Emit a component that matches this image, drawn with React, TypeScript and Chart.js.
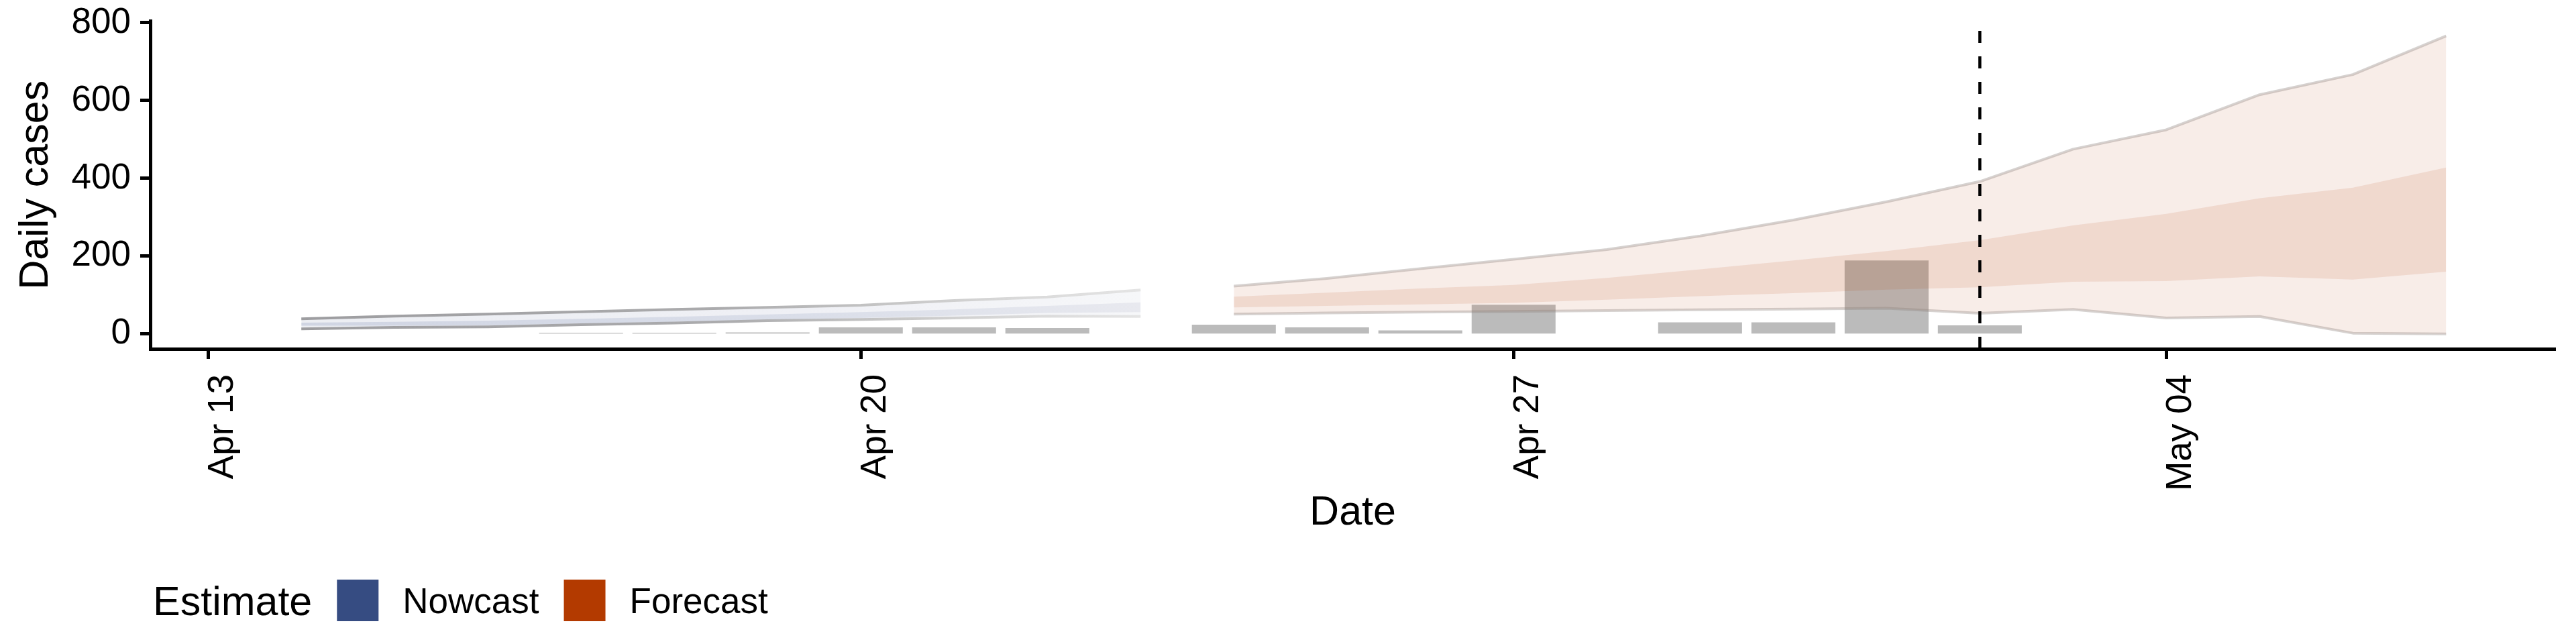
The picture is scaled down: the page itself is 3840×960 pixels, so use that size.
import React, { useEffect, useRef } from "react";
import { Chart, registerables } from "chart.js";

Chart.register(...registerables);

const FONT = "'Liberation Sans', Arial, Helvetica, sans-serif";

// ---------- data ----------
const originDate = "2020-04-13";

const nowcastDates = [
  "2020-04-14", "2020-04-15", "2020-04-16", "2020-04-17", "2020-04-18",
  "2020-04-19", "2020-04-20", "2020-04-21", "2020-04-22", "2020-04-23",
];
const nowcastLower90 = [13, 17, 18, 24, 28, 34, 37, 41, 46, 45];
const nowcastLower50 = [21, 21, 22, 27, 31, 36, 41, 47, 54, 56];
const nowcastUpper50 = [29, 31, 34, 39, 44, 50, 56, 63, 72, 81];
const nowcastUpper90 = [39, 46, 51, 57, 63, 68, 74, 86, 95, 113];

const forecastDates = [
  "2020-04-24", "2020-04-25", "2020-04-26", "2020-04-27", "2020-04-28",
  "2020-04-29", "2020-04-30", "2020-05-01", "2020-05-02", "2020-05-03",
  "2020-05-04", "2020-05-05", "2020-05-06", "2020-05-07",
];
const forecastLower90 = [51, 54, 56, 58, 60, 62, 64, 66, 53, 63, 41, 45, 2, 0];
const forecastLower50 = [68, 72, 76, 80, 88, 97, 105, 114, 120, 134, 136, 148, 140, 160];
const forecastUpper50 = [96, 106, 117, 126, 144, 166, 189, 213, 241, 279, 309, 349, 376, 428];
const forecastUpper90 = [123, 143, 168, 192, 217, 252, 293, 340, 392, 475, 525, 615, 667, 766];

const caseDates = [
  "2020-04-17", "2020-04-18", "2020-04-19", "2020-04-20", "2020-04-21", "2020-04-22",
  "2020-04-24", "2020-04-25", "2020-04-26", "2020-04-27",
  "2020-04-29", "2020-04-30", "2020-05-01", "2020-05-02",
];
const caseCounts = [3, 3, 4, 17, 17, 15, 24, 17, 9, 75, 30, 30, 189, 22];

const forecastLineDate = "2020-05-02";

const xTickDates = ["2020-04-13", "2020-04-20", "2020-04-27", "2020-05-04"];
const xTickLabels = ["Apr 13", "Apr 20", "Apr 27", "May 04"];
const yTicks = [0, 200, 400, 600, 800];

const legendTitle = "Estimate";
const legendLabels = ["Nowcast", "Forecast"];
const legendColors = ["#364C82", "#B33A00"];

// ---------- helpers ----------
const DAY = 86400000;
const day = (d: string) => Math.round((Date.parse(d) - Date.parse(originDate)) / DAY);
const pts = (dates: string[], ys: number[]) => dates.map((d, i) => ({ x: day(d), y: ys[i] }));

const X_MIN = -0.62;
const X_MAX = 25.17;
const Y_MIN = -38.3;
const Y_MAX = 804.3;

const TITLE_SIZE = 61;
const TEXT_SIZE = 53;

function hGradient(chart: any, d0: string, d1: string, stops: [number, string][]) {
  const { ctx, chartArea, scales } = chart;
  if (!chartArea || !scales.x) return stops[0][1];
  const g = ctx.createLinearGradient(
    scales.x.getPixelForValue(day(d0)), 0,
    scales.x.getPixelForValue(day(d1)), 0
  );
  stops.forEach(([o, c]) => g.addColorStop(o, c));
  return g;
}

const nowFirst = nowcastDates[0];
const nowLast = nowcastDates[nowcastDates.length - 1];

const nowOuterStops: [number, string][] = [[0, "#ECEEF3"], [0.6, "#EFF0F5"], [1, "#F6F7F9"]];
const nowInnerStops: [number, string][] = [[0, "#D0D5E3"], [0.6, "#DADEE9"], [1, "#E8E9EF"]];
const nowLineStops: [number, string][] = [
  [0, "#9D9DA0"], [0.5, "#ABABAD"], [0.7, "#C6C6C6"], [0.85, "#D9D9D9"], [1, "#E4E4E4"],
];

const legendPlugin = {
  id: "estimateLegend",
  afterDraw(chart: any) {
    const { ctx, chartArea } = chart;
    const cy = 895;
    const box = 62;
    ctx.save();
    ctx.textBaseline = "alphabetic";
    ctx.textAlign = "left";
    ctx.fillStyle = "#000";
    ctx.font = `${TITLE_SIZE}px ${FONT}`;
    let x = chartArea.left + 4;
    ctx.fillText(legendTitle, x, cy + 0.358 * TITLE_SIZE);
    x += ctx.measureText(legendTitle).width + 37;
    ctx.font = `${TEXT_SIZE}px ${FONT}`;
    legendLabels.forEach((lab, i) => {
      ctx.fillStyle = legendColors[i];
      ctx.fillRect(x, cy - box / 2, box, box);
      x += box + 36;
      ctx.fillStyle = "#000";
      ctx.fillText(lab, x, cy + 0.358 * TEXT_SIZE);
      x += ctx.measureText(lab).width + 37;
    });
    ctx.restore();
  },
};

function buildDatasets() {
  const ds: any[] = [];
  const hidden = { borderWidth: 0, borderColor: "rgba(0,0,0,0)", pointRadius: 0, pointHoverRadius: 0 };

  // observed cases
  ds.push({
    type: "bar",
    data: pts(caseDates, caseCounts),
    backgroundColor: "#BBBBBB",
    borderWidth: 0,
    barPercentage: 0.9,
    categoryPercentage: 1,
    order: 30,
  });

  // nowcast bands
  const nA = ds.length;
  ds.push({ type: "line", data: pts(nowcastDates, nowcastLower90), ...hidden, fill: false, order: 29 });
  ds.push({
    type: "line", data: pts(nowcastDates, nowcastUpper90), ...hidden, fill: nA,
    backgroundColor: (c: any) => hGradient(c.chart, nowFirst, nowLast, nowOuterStops), order: 28,
  });
  const nC = ds.length;
  ds.push({ type: "line", data: pts(nowcastDates, nowcastLower50), ...hidden, fill: false, order: 27 });
  ds.push({
    type: "line", data: pts(nowcastDates, nowcastUpper50), ...hidden, fill: nC,
    backgroundColor: (c: any) => hGradient(c.chart, nowFirst, nowLast, nowInnerStops), order: 26,
  });

  // forecast bands
  const fA = ds.length;
  ds.push({ type: "line", data: pts(forecastDates, forecastLower90), ...hidden, fill: false, order: 25 });
  ds.push({
    type: "line", data: pts(forecastDates, forecastUpper90), ...hidden, fill: fA,
    backgroundColor: "rgba(179,59,0,0.09)", order: 24,
  });
  const fC = ds.length;
  ds.push({ type: "line", data: pts(forecastDates, forecastLower50), ...hidden, fill: false, order: 23 });
  ds.push({
    type: "line", data: pts(forecastDates, forecastUpper50), ...hidden, fill: fC,
    backgroundColor: "rgba(179,59,0,0.115)", order: 22,
  });

  // band edge lines
  const lineBase = { type: "line", pointRadius: 0, pointHoverRadius: 0, fill: false, borderWidth: 4, borderJoinStyle: "round", tension: 0 };
  ds.push({ ...lineBase, data: pts(nowcastDates, nowcastLower90), borderColor: (c: any) => hGradient(c.chart, nowFirst, nowLast, nowLineStops), order: 12 });
  ds.push({ ...lineBase, data: pts(nowcastDates, nowcastUpper90), borderColor: (c: any) => hGradient(c.chart, nowFirst, nowLast, nowLineStops), order: 11 });
  ds.push({ ...lineBase, data: pts(forecastDates, forecastLower90), borderColor: "rgba(140,130,125,0.36)", order: 10 });
  ds.push({ ...lineBase, data: pts(forecastDates, forecastUpper90), borderColor: "rgba(140,130,125,0.36)", order: 9 });

  // forecast start marker
  ds.push({
    type: "line",
    data: [{ x: day(forecastLineDate), y: Y_MIN }, { x: day(forecastLineDate), y: Y_MAX }],
    borderColor: "#000", borderWidth: 4.5, borderDash: [18, 20], pointRadius: 0, pointHoverRadius: 0,
    fill: false, order: 0,
  });
  return ds;
}

export default function App() {
  const ref = useRef<HTMLCanvasElement | null>(null);
  useEffect(() => {
    if (!ref.current) return;
    Chart.defaults.font.family = FONT;
    Chart.defaults.color = "#000";
    const chart = new Chart(ref.current, {
      type: "line",
      data: { datasets: buildDatasets() },
      options: {
        animation: false,
        responsive: true,
        maintainAspectRatio: false,
        devicePixelRatio: 1,
        events: [],
        layout: { padding: { left: 0, right: 31, top: 31.5, bottom: 156 } },
        plugins: { legend: { display: false }, tooltip: { enabled: false } },
        scales: {
          x: {
            type: "linear",
            min: X_MIN,
            max: X_MAX,
            offset: false,
            afterBuildTicks: (s: any) => { s.ticks = xTickDates.map((d) => ({ value: day(d) })); },
            afterFit: (s: any) => { s.height = 284; s.paddingLeft = 0; s.paddingRight = 0; },
            ticks: {
              autoSkip: false,
              minRotation: 90,
              maxRotation: 90,
              padding: 23,
              labelOffset: 22,
              color: "#000",
              font: { size: TEXT_SIZE },
              callback: (_v: any, i: number) => xTickLabels[i],
            },
            grid: { display: true, drawOnChartArea: false, drawTicks: true, tickLength: 15, tickWidth: 5, tickColor: "#000", offset: false },
            border: { display: true, color: "#000", width: 5 },
            title: { display: true, text: "Date", color: "#000", font: { size: TITLE_SIZE }, padding: { top: 0, bottom: 2 } },
          },
          y: {
            type: "linear",
            min: Y_MIN,
            max: Y_MAX,
            afterBuildTicks: (s: any) => { s.ticks = yTicks.map((v) => ({ value: v })); },
            afterFit: (s: any) => { s.width = 224; s.paddingTop = 0; s.paddingBottom = 0; },
            ticks: { padding: 14, color: "#000", font: { size: TEXT_SIZE } },
            grid: { display: true, drawOnChartArea: false, drawTicks: true, tickLength: 15, tickWidth: 5, tickColor: "#000" },
            border: { display: true, color: "#000", width: 5 },
            title: { display: true, text: "Daily cases", color: "#000", font: { size: TITLE_SIZE }, padding: { top: 18, bottom: 0 } },
          },
        },
      },
      plugins: [legendPlugin],
    } as any);
    return () => chart.destroy();
  }, []);

  return (
    <div style={{ position: "fixed", left: 0, top: 0, width: 3840, height: 960, background: "#fff" }}>
      <canvas ref={ref} style={{ display: "block" }} />
    </div>
  );
}
